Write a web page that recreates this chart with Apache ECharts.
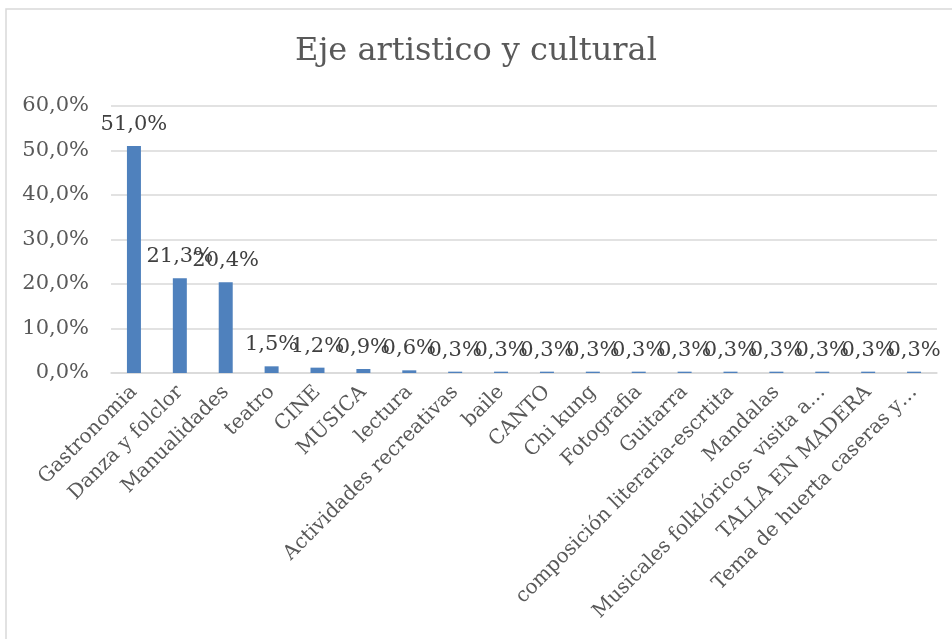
<!DOCTYPE html>
<html>
<head>
<meta charset="utf-8">
<script src="https://cdn.jsdelivr.net/npm/echarts@6/dist/echarts.min.js"></script>
<style>html,body{margin:0;padding:0;background:#fff}#c{width:952px;height:639px}</style>
</head>
<body>
<div id="c"></div>
<script>
const titleText = "Eje artistico y cultural";
const categories = ["Gastronomia","Danza y folclor","Manualidades","teatro","CINE","MUSICA","lectura","Actividades recreativas","baile","CANTO","Chi kung","Fotografia","Guitarra","composición literaria-escrtita","Mandalas","Musicales folklóricos- visita a…","TALLA EN MADERA","Tema de huerta caseras y…"];
const values = [51.0,21.3,20.4,1.5,1.2,0.9,0.6,0.3,0.3,0.3,0.3,0.3,0.3,0.3,0.3,0.3,0.3,0.3];
const yMin = 0, yMax = 60, yStep = 10;

const FONT = "DejaVu Serif";
const fmt = v => v.toFixed(1).replace('.', ',') + '%';
const chart = echarts.init(document.getElementById('c'), null, {renderer: 'canvas'});
chart.setOption({
  animation: false,
  backgroundColor: '#fff',
  graphic: [{
    type: 'rect', shape: {x: 6, y: 9, width: 960, height: 640},
    style: {fill: 'none', stroke: '#D9D9D9', lineWidth: 1.5}, silent: true
  }],
  title: {
    text: titleText, left: 'center', top: 31,
    textStyle: {fontFamily: FONT, fontSize: 32, fontWeight: 'normal', color: '#595959'}
  },
  grid: {left: 111, right: 15, top: 106, bottom: 266, containLabel: false},
  xAxis: {
    type: 'category', data: categories,
    axisLine: {lineStyle: {color: '#D9D9D9', width: 1.5}},
    axisTick: {show: false},
    axisLabel: {interval: 0, rotate: 45, margin: 16, fontFamily: FONT, fontSize: 20, color: '#595959'}
  },
  yAxis: {
    type: 'value', min: yMin, max: yMax, interval: yStep,
    axisLine: {show: false}, axisTick: {show: false},
    splitLine: {lineStyle: {color: '#D9D9D9', width: 1.5}},
    axisLabel: {margin: 22, fontFamily: FONT, fontSize: 21, color: '#595959', formatter: v => fmt(v)}
  },
  series: [{
    type: 'bar', data: values, barWidth: 14,
    itemStyle: {color: '#4F81BD'},
    label: {show: true, position: 'top', distance: 11, fontFamily: FONT, fontSize: 21, color: '#404040',
      formatter: p => fmt(p.value)}
  }]
});
</script>
</body>
</html>
